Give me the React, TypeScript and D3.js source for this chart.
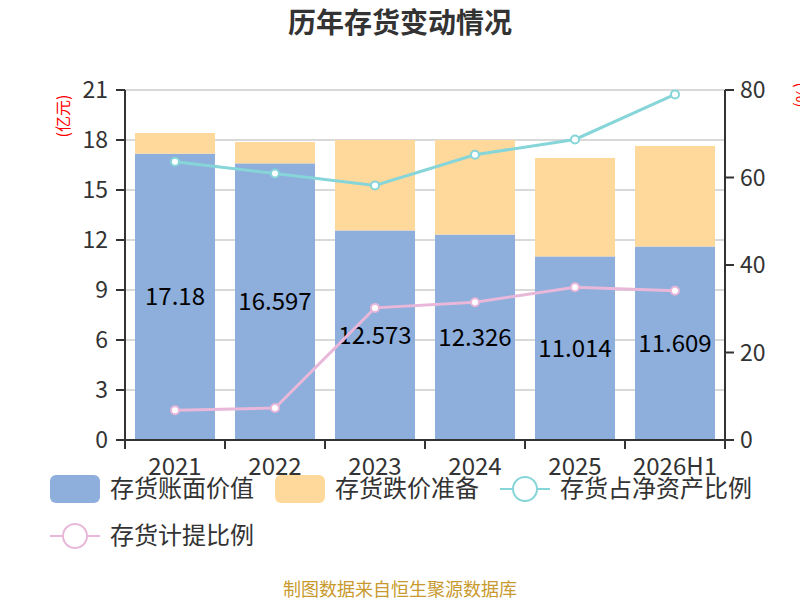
import React from "react";
import * as d3 from "d3";

const years = ["2021", "2022", "2023", "2024", "2025", "2026H1"];
const bookValue = [17.18, 16.597, 12.573, 12.326, 11.014, 11.609];
const writeDown = [1.24, 1.28, 5.43, 5.67, 5.91, 6.03];
const netAssetRatio = [63.6, 60.9, 58.2, 65.2, 68.7, 79.0];
const provisionRatio = [6.8, 7.3, 30.2, 31.5, 34.9, 34.1];
const leftTicks = [0, 3, 6, 9, 12, 15, 18, 21];
const rightTicks = [0, 20, 40, 60, 80];

const BLUE = "#8eaedb";
const YELLOW = "#ffd99b";
const CYAN = "#86d5d9";
const PINK = "#e8b7d9";
const FONT = "'Noto Sans CJK SC', 'Noto Sans', sans-serif";

const width = 800;
const height = 600;
const margin = { top: 90, right: 75, bottom: 160, left: 125 };

export default function App() {
  const w = width - margin.left - margin.right;
  const h = height - margin.top - margin.bottom;

  const x = d3.scaleBand<string>().domain(years).range([0, w]).paddingInner(0.2).paddingOuter(0.1);
  const yL = d3.scaleLinear().domain([0, 21]).range([h, 0]);
  const yR = d3.scaleLinear().domain([0, 80]).range([h, 0]);
  const cx = (d: string) => (x(d) ?? 0) + x.bandwidth() / 2;

  const line = d3
    .line<number>()
    .x((_, i) => cx(years[i]))
    .y((v) => yR(v));

  const step = w / years.length;

  return (
    <svg width={width} height={height} style={{ position: "absolute", left: 0, top: 0, fontFamily: FONT }}>
      <text x={400} y={33} textAnchor="middle" fontSize={28} fontWeight="bold" fill="#333">
        历年存货变动情况
      </text>
      <text
        transform={`translate(69,116) rotate(-90)`}
        textAnchor="middle"
        fontSize={16}
        fill="red"
      >
        (亿元)
      </text>
      <text transform={`translate(796,95) rotate(90)`} textAnchor="middle" fontSize={16} fill="red">
        (%)
      </text>

      <g transform={`translate(${margin.left},${margin.top})`}>
        {/* grid */}
        {leftTicks.map((t) => (
          <line key={t} x1={0} x2={w} y1={yL(t)} y2={yL(t)} stroke="#ccc" strokeWidth={1.5} />
        ))}

        {/* bars */}
        {years.map((yr, i) => (
          <g key={yr}>
            <rect
              x={x(yr)}
              y={yL(bookValue[i])}
              width={x.bandwidth()}
              height={h - yL(bookValue[i])}
              fill={BLUE}
            />
            <rect
              x={x(yr)}
              y={yL(bookValue[i] + writeDown[i])}
              width={x.bandwidth()}
              height={yL(bookValue[i]) - yL(bookValue[i] + writeDown[i])}
              fill={YELLOW}
            />
          </g>
        ))}

        {/* bar labels */}
        {years.map((yr, i) => (
          <text
            key={yr}
            x={cx(yr)}
            y={(h + yL(bookValue[i])) / 2}
            dy="0.35em"
            textAnchor="middle"
            fontSize={24}
            fill="#000"
          >
            {bookValue[i]}
          </text>
        ))}

        {/* lines */}
        <path d={line(netAssetRatio) ?? ""} fill="none" stroke={CYAN} strokeWidth={3} />
        <path d={line(provisionRatio) ?? ""} fill="none" stroke={PINK} strokeWidth={3} />
        {netAssetRatio.map((v, i) => (
          <circle key={"n" + i} cx={cx(years[i])} cy={yR(v)} r={4} fill="#fff" stroke={CYAN} strokeWidth={2} />
        ))}
        {provisionRatio.map((v, i) => (
          <circle key={"p" + i} cx={cx(years[i])} cy={yR(v)} r={4} fill="#fff" stroke={PINK} strokeWidth={2} />
        ))}

        {/* left axis */}
        <line x1={0} x2={0} y1={0} y2={h} stroke="#333" strokeWidth={2} />
        {leftTicks.map((t) => (
          <g key={t} transform={`translate(0,${yL(t)})`}>
            <line x1={-9} x2={0} stroke="#333" strokeWidth={2} />
            <text x={-17} dy="0.35em" textAnchor="end" fontSize={23} fill="#333">
              {t}
            </text>
          </g>
        ))}

        {/* right axis */}
        <line x1={w} x2={w} y1={0} y2={h} stroke="#333" strokeWidth={2} />
        {rightTicks.map((t) => (
          <g key={t} transform={`translate(${w},${yR(t)})`}>
            <line x1={0} x2={9} stroke="#333" strokeWidth={2} />
            <text x={15} dy="0.35em" textAnchor="start" fontSize={23} fill="#333">
              {t}
            </text>
          </g>
        ))}

        {/* bottom axis */}
        <line x1={0} x2={w} y1={h} y2={h} stroke="#333" strokeWidth={2} />
        {d3.range(years.length + 1).map((i) => (
          <line key={i} x1={i * step} x2={i * step} y1={h} y2={h + 9} stroke="#333" strokeWidth={2} />
        ))}
        {years.map((yr) => (
          <text key={yr} x={cx(yr)} y={h + 35} textAnchor="middle" fontSize={24} fill="#333">
            {yr}
          </text>
        ))}
      </g>

      {/* legend */}
      <g fontSize={24} fill="#333">
        <rect x={50} y={475} width={50} height={28} rx={6} fill={BLUE} />
        <text x={110} y={489} dy="0.35em">存货账面价值</text>
        <rect x={275} y={475} width={50} height={28} rx={6} fill={YELLOW} />
        <text x={335} y={489} dy="0.35em">存货跌价准备</text>
        <line x1={500} x2={550} y1={489} y2={489} stroke={CYAN} strokeWidth={2} />
        <circle cx={525} cy={489} r={12} fill="#fff" stroke={CYAN} strokeWidth={2} />
        <text x={560} y={489} dy="0.35em">存货占净资产比例</text>
        <line x1={50} x2={100} y1={536} y2={536} stroke={PINK} strokeWidth={2} />
        <circle cx={75} cy={536} r={12} fill="#fff" stroke={PINK} strokeWidth={2} />
        <text x={110} y={536} dy="0.35em">存货计提比例</text>
      </g>

      <text x={400} y={596} textAnchor="middle" fontSize={18} fill="#c89a2e">
        制图数据来自恒生聚源数据库
      </text>
    </svg>
  );
}
